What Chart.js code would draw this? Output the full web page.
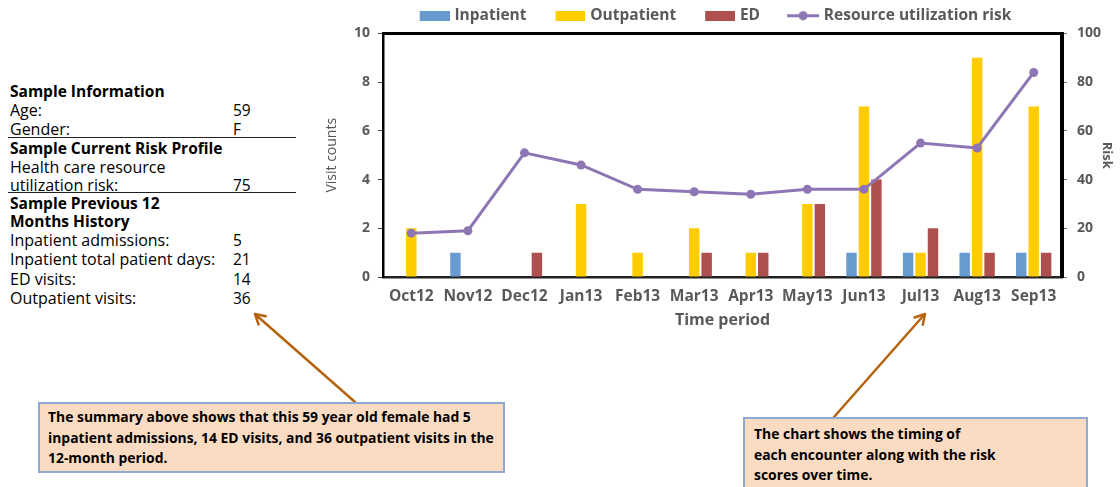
<!DOCTYPE html>
<html>
<head>
<meta charset="utf-8">
<script src="https://cdn.jsdelivr.net/npm/chart.js@4.4.0/dist/chart.umd.min.js"></script>
<style>
  body { margin: 0; width: 1120px; height: 487px; background: #fff; position: relative; overflow: hidden; font-family: "Open Sans", Lato, sans-serif; }
  #chartBox { position: absolute; left: 290px; top: 0; width: 830px; height: 335px; }
  .row { position: absolute; left: 10px; font-size: 16px; line-height: 19px; height: 19px; color: #000; white-space: nowrap; }
  .row.head { font-weight: bold; font-size: 15.5px; }
  .row .val { position: absolute; left: 223px; top: 0; font-size: 15.5px; }
  .rule { position: absolute; left: 8px; width: 288px; height: 0; border-top: 1.5px solid #222; }
  .note { position: absolute; box-sizing: border-box; background: #fbdcc2; border: 2px solid #8eaad4; font-weight: bold; font-size: 13.9px; line-height: 20.5px; color: #000; white-space: nowrap; }
  #arrows { position: absolute; left: 0; top: 0; }
</style>
</head>
<body>
<svg id="arrows" width="1120" height="487">
  <g stroke="#b5630f" stroke-width="2.5" fill="none" stroke-linecap="round" stroke-linejoin="round">
    <line x1="355" y1="402" x2="256" y2="315"/>
    <polyline points="258.5,324.4 255,314 265.8,316.2"/>
    <line x1="834" y1="417" x2="924" y2="315"/>
    <polyline points="914.6,317.5 925,314 922.8,324.8"/>
  </g>
</svg>
<div id="panel"></div>
<div class="note" style="left:38px; top:402px; width:467px; height:71px; padding:3px 0 0 8px;">
  The summary above shows that this 59 year old female had 5<br>
  inpatient admissions, 14 ED visits, and 36 outpatient visits in the<br>
  12-month period.
</div>
<div class="note" style="left:743px; top:417px; width:345px; height:80px; padding:5px 0 0 9px;">
  The chart shows the timing of<br>
  each encounter along with the risk<br>
  scores over time.
</div>
<div id="chartBox"><canvas id="myChart"></canvas></div>

<script>
// chart data
const months = ['Oct12', 'Nov12', 'Dec12', 'Jan13', 'Feb13', 'Mar13', 'Apr13', 'May13', 'Jun13', 'Jul13', 'Aug13', 'Sep13'];
const inpatient = [0, 1, 0, 0, 0, 0, 0, 0, 1, 1, 1, 1];
const outpatient = [2, 0, 0, 3, 1, 2, 1, 3, 7, 1, 9, 7];
const edVisits = [0, 0, 1, 0, 0, 1, 1, 3, 4, 2, 1, 1];
const riskScore = [18, 19, 51, 46, 36, 35, 34, 36, 36, 55, 53, 84];
const visitTicks = [0, 2, 4, 6, 8, 10];
const riskTicks = [0, 20, 40, 60, 80, 100];

// summary panel on the left: [label, value, center y, heading]
const panelRows = [
  ['Sample Information', '', 91, true],
  ['Age:', '59', 110, false],
  ['Gender:', 'F', 129, false],
  ['Sample Current Risk Profile', '', 148, true],
  ['Health care resource', '', 167, false],
  ['utilization risk:', '75', 185, false],
  ['Sample Previous 12', '', 203, true],
  ['Months History', '', 221, true],
  ['Inpatient admissions:', '5', 240, false],
  ['Inpatient total patient days:', '21', 259, false],
  ['ED visits:', '14', 279, false],
  ['Outpatient visits:', '36', 298, false],
];
const panelRules = [137, 192];

const panel = document.getElementById('panel');
panelRows.forEach(([label, value, y, head]) => {
  const row = document.createElement('div');
  row.className = head ? 'row head' : 'row';
  row.style.top = (y - 9.5) + 'px';
  row.textContent = label;
  if (value) {
    const v = document.createElement('span');
    v.className = 'val';
    v.textContent = value;
    row.appendChild(v);
  }
  panel.appendChild(row);
});
panelRules.forEach((y) => {
  const r = document.createElement('div');
  r.className = 'rule';
  r.style.top = y + 'px';
  panel.appendChild(r);
});

const BLUE = '#6a9bd0';
const GOLD = '#ffcc00';
const RED = '#ae504d';
const PURPLE = '#8e76b4';
const GREY = '#595959';

// legend icons, transparent gap on the left to space the items
// (icon is a bit wider than the legend box so it sits close to its text)
const ICON_W = 54;
const BOX_W = 48;
function barIcon(color) {
  const c = document.createElement('canvas');
  c.width = ICON_W; c.height = 10;
  const g = c.getContext('2d');
  g.fillStyle = color;
  g.fillRect(ICON_W - 30, 0, 30, 10);
  return c;
}
function lineIcon(color) {
  const c = document.createElement('canvas');
  c.width = ICON_W; c.height = 11;
  const g = c.getContext('2d');
  g.strokeStyle = color;
  g.lineWidth = 3;
  g.beginPath();
  g.moveTo(ICON_W - 32, 5.5);
  g.lineTo(ICON_W, 5.5);
  g.stroke();
  g.fillStyle = color;
  g.beginPath();
  g.arc(ICON_W - 16, 5.5, 4.5, 0, Math.PI * 2);
  g.fill();
  return c;
}
const legendIcons = [barIcon(BLUE), barIcon(GOLD), barIcon(RED), lineIcon(PURPLE)];

Chart.defaults.font.family = '"Open Sans", Lato, sans-serif';

const ctx = document.getElementById('myChart').getContext('2d');
const myChart = new Chart(ctx, {
  type: 'bar',
  data: {
    labels: months,
    datasets: [
      { label: 'Inpatient', data: inpatient, backgroundColor: BLUE, xAxisID: 'x', yAxisID: 'y', order: 1 },
      { label: 'Outpatient', data: outpatient, backgroundColor: GOLD, xAxisID: 'x', yAxisID: 'y', order: 1 },
      { label: 'ED', data: edVisits, backgroundColor: RED, xAxisID: 'x', yAxisID: 'y', order: 1 },
      {
        type: 'line',
        label: 'Resource utilization risk',
        data: riskScore,
        borderColor: PURPLE,
        backgroundColor: PURPLE,
        borderWidth: 3,
        pointRadius: 4.5,
        pointBorderWidth: 0,
        pointBackgroundColor: PURPLE,
        tension: 0,
        xAxisID: 'x',
        yAxisID: 'y2',
        order: 0,
      },
    ],
  },
  options: {
    responsive: true,
    maintainAspectRatio: false,
    animation: false,
    layout: { padding: 0 },
    datasets: {
      bar: { categoryPercentage: 0.66, barPercentage: 0.84 },
    },
    plugins: {
      tooltip: { enabled: false },
      legend: {
        position: 'top',
        labels: {
          usePointStyle: true,
          pointStyleWidth: BOX_W,
          padding: 8,
          color: GREY,
          font: { size: 15.5, weight: 'bold' },
          generateLabels: (chart) => chart.data.datasets.map((ds, i) => ({
            text: ds.label,
            pointStyle: legendIcons[i],
            fontColor: GREY,
            fillStyle: 'transparent',
            strokeStyle: 'transparent',
            lineWidth: 0,
            hidden: false,
            datasetIndex: i,
          })),
        },
      },
    },
    scales: {
      x: {
        position: 'bottom',
        grid: { display: false, drawTicks: false },
        border: { color: '#222', width: 2.5 },
        ticks: { color: GREY, font: { size: 15.5, weight: 'bold' }, padding: 10, maxRotation: 0, autoSkip: false },
        title: { display: true, text: 'Time period', color: GREY, font: { size: 16, weight: 'bold' }, padding: { top: 0, bottom: 5 } },
        afterFit: (scale) => { scale.height = 58; },
      },
      xTop: {
        type: 'category',
        position: 'top',
        grid: { display: false, drawTicks: false },
        ticks: { display: false },
        border: { color: '#000', width: 3 },
        afterFit: (scale) => { scale.height = 0; },
      },
      y: {
        position: 'left',
        min: visitTicks[0],
        max: visitTicks[visitTicks.length - 1],
        afterBuildTicks: (scale) => { scale.ticks = visitTicks.map((v) => ({ value: v })); },
        ticks: { color: GREY, font: { size: 14, weight: 'bold' }, padding: 8 },
        grid: { drawOnChartArea: false, drawTicks: true, tickLength: 5, color: '#444' },
        border: { color: '#000', width: 2.5 },
        title: { display: true, text: 'Visit counts', color: '#555', font: { size: 14 }, padding: { top: 34, bottom: 0 } },
        afterFit: (scale) => { scale.width = 93; },
      },
      y2: {
        position: 'right',
        min: riskTicks[0],
        max: riskTicks[riskTicks.length - 1],
        afterBuildTicks: (scale) => { scale.ticks = riskTicks.map((v) => ({ value: v })); },
        ticks: { color: GREY, font: { size: 14, weight: 'bold' }, padding: 10 },
        grid: { drawOnChartArea: false, drawTicks: true, tickLength: 5, color: '#777' },
        border: { color: '#000', width: 4 },
        title: { display: true, text: 'Risk', color: GREY, font: { size: 13, weight: 'bold' }, padding: { top: 5, bottom: 0 } },
        afterFit: (scale) => { scale.width = 58; },
      },
    },
  },
});
</script>
</body>
</html>
